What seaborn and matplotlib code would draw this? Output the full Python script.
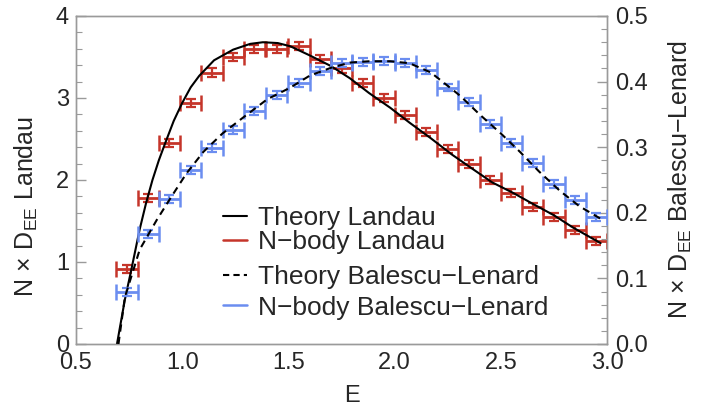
import numpy as np
import pandas as pd
import matplotlib
matplotlib.use("Agg")
import matplotlib.pyplot as plt
import seaborn as sns
from matplotlib.lines import Line2D
from matplotlib.ticker import MultipleLocator

# ---- data ----
E_bins = [0.74, 0.84, 0.94, 1.04, 1.14, 1.24, 1.34, 1.445, 1.55, 1.65, 1.75, 1.85,
          1.95, 2.05, 2.15, 2.25, 2.35, 2.45, 2.55, 2.65, 2.75, 2.85, 2.95]
nbody_landau = [0.91, 1.78, 2.45, 2.94, 3.31, 3.50, 3.60, 3.60, 3.63, 3.48, 3.36, 3.18,
                3.00, 2.79, 2.59, 2.38, 2.20, 2.00, 1.84, 1.67, 1.55, 1.39, 1.26]
nbody_bl = [0.079, 0.168, 0.221, 0.265, 0.299, 0.326, 0.355, 0.379, 0.398, 0.416, 0.428, 0.430,
            0.431, 0.429, 0.418, 0.391, 0.369, 0.335, 0.306, 0.276, 0.244, 0.220, 0.193]
landau_err = 0.05
bl_err = 0.006
E_halfwidth = 0.05

theory_landau_E = [0.693, 0.73, 0.76, 0.80, 0.83, 0.86, 0.89, 0.92, 0.96, 1.00, 1.04, 1.08,
                   1.15, 1.24, 1.32, 1.38, 1.45, 1.51, 1.60, 1.70, 1.79, 1.88, 1.98, 2.07,
                   2.17, 2.27, 2.37, 2.46, 2.56, 2.65, 2.75, 2.84, 2.97]
theory_landau = [0.0, 0.54, 0.90, 1.40, 1.72, 2.00, 2.24, 2.45, 2.72, 2.94, 3.13, 3.27,
                 3.46, 3.59, 3.66, 3.68, 3.67, 3.63, 3.52, 3.39, 3.24, 3.06, 2.88, 2.70,
                 2.51, 2.31, 2.13, 1.97, 1.84, 1.71, 1.57, 1.42, 1.23]
theory_bl_E = [0.70, 0.73, 0.80, 0.88, 0.95, 1.02, 1.10, 1.19, 1.29, 1.40, 1.51, 1.60,
               1.70, 1.79, 1.88, 1.98, 2.07, 2.17, 2.26, 2.31, 2.40, 2.50, 2.59, 2.68,
               2.78, 2.87, 2.98]
theory_bl = [0.0, 0.071, 0.144, 0.189, 0.225, 0.260, 0.293, 0.321, 0.346, 0.373, 0.391, 0.409,
             0.421, 0.429, 0.431, 0.431, 0.428, 0.414, 0.391, 0.378, 0.350, 0.321, 0.293, 0.263,
             0.233, 0.210, 0.189]

x_ticks = [0.5, 1.0, 1.5, 2.0, 2.5, 3.0]
yl_ticks = [0, 1, 2, 3, 4]
yr_ticks = [0.0, 0.1, 0.2, 0.3, 0.4, 0.5]

RED = "#C5352A"
BLUE = "#6B8DF0"
FRAME = "#9a9a9a"

sns.set_style("white")
plt.rcParams["font.family"] = ["Liberation Sans", "DejaVu Sans"]
plt.rcParams["mathtext.fontset"] = "custom"
plt.rcParams["mathtext.rm"] = "Liberation Sans"
plt.rcParams["mathtext.it"] = "Liberation Sans:italic"

fig = plt.figure(figsize=(7.09, 4.07), dpi=100)
ax = fig.add_axes([76/709, 1-344/407, (607-76)/709, (344-16)/407])
ax2 = ax.twinx()

df_tl = pd.DataFrame({"E": theory_landau_E, "D": theory_landau})
df_tb = pd.DataFrame({"E": theory_bl_E, "D": theory_bl})
sns.lineplot(data=df_tl, x="E", y="D", ax=ax, color="black", lw=1.5, sort=False, zorder=5)
sns.lineplot(data=df_tb, x="E", y="D", ax=ax2, color="black", lw=1.5, sort=False,
             dashes=False, linestyle=(0, (3.5, 2.5)), zorder=5)

# N-body error bars (x width with tall caps, small y error)
ax.errorbar(E_bins, nbody_landau, xerr=E_halfwidth, fmt="none", ecolor=RED,
            elinewidth=2, capsize=6, capthick=1.8, zorder=3)
ax.errorbar(E_bins, nbody_landau, yerr=landau_err, fmt="none", ecolor=RED,
            elinewidth=1.6, capsize=3.5, capthick=1.6, zorder=3)
ax2.errorbar(E_bins, nbody_bl, xerr=E_halfwidth, fmt="none", ecolor=BLUE,
             elinewidth=2, capsize=6, capthick=1.8, zorder=3)
ax2.errorbar(E_bins, nbody_bl, yerr=bl_err, fmt="none", ecolor=BLUE,
             elinewidth=1.6, capsize=3.5, capthick=1.6, zorder=3)

ax.set_xlim(0.5, 3.0)
ax.set_ylim(0, 4)
ax2.set_ylim(0, 0.5)
ax.set_xticks(x_ticks)
ax.set_xticklabels([f"{v:.1f}" for v in x_ticks])
ax.set_yticks(yl_ticks)
ax.set_yticklabels([str(v) for v in yl_ticks])
ax2.set_yticks(yr_ticks)
ax2.set_yticklabels([f"{v:.1f}" for v in yr_ticks])
ax.xaxis.set_minor_locator(MultipleLocator(0.1))
ax.yaxis.set_minor_locator(MultipleLocator(0.2))
ax2.yaxis.set_minor_locator(MultipleLocator(0.02))

for a in (ax, ax2):
    for s in a.spines.values():
        s.set_color(FRAME)
        s.set_linewidth(1.0)
ax.tick_params(axis="x", which="major", direction="in", length=7, width=1, color=FRAME,
               labelsize=17, pad=6, top=False)
ax.tick_params(axis="y", which="major", direction="in", length=7, width=1, color=FRAME,
               labelsize=17, pad=5, right=False)
ax.tick_params(axis="both", which="minor", direction="in", length=4, width=0.8, color=FRAME,
               top=False, right=False)
ax2.tick_params(axis="y", which="major", direction="in", length=7, width=1, color=FRAME,
                labelsize=17, pad=6)
ax2.tick_params(axis="y", which="minor", direction="in", length=4, width=0.8, color=FRAME)

ax.set_xlabel("E", fontsize=17)
ax.xaxis.set_label_coords(0.52, -0.125)
ax.set_ylabel(r"N$\,\times\,$D$_{\mathrm{EE}}$ Landau", fontsize=18)
ax.yaxis.set_label_coords(-0.068, 0.42)
ax2.set_ylabel(r"N$\,\times\,$D$_{\mathrm{EE}}$ Balescu$-$Lenard", fontsize=18, rotation=90)
ax2.yaxis.set_label_coords(1.113, 0.5)

labels = ["Theory Landau", "N\u2212body Landau", "Theory Balescu\u2212Lenard",
          "N\u2212body Balescu\u2212Lenard"]
h_a = [Line2D([], [], color="black", lw=1.5), Line2D([], [], color=RED, lw=1.8)]
h_b = [Line2D([], [], color="black", lw=1.5, linestyle=(0, (3, 2))),
       Line2D([], [], color=BLUE, lw=1.8)]
common = dict(frameon=False, fontsize=19, handlelength=0.9, handletextpad=0.42,
              borderaxespad=0, borderpad=0, loc="upper left")
leg_a = ax.legend(h_a, labels[:2], bbox_to_anchor=((223-76)/531, (344-206)/328),
                  labelspacing=0.0, **common)
ax.add_artist(leg_a)
leg_b = ax.legend(h_b, labels[2:], bbox_to_anchor=((223-76)/531, (344-265)/328),
                  labelspacing=0.25, **common)

fig.savefig("out.png", dpi=100)
